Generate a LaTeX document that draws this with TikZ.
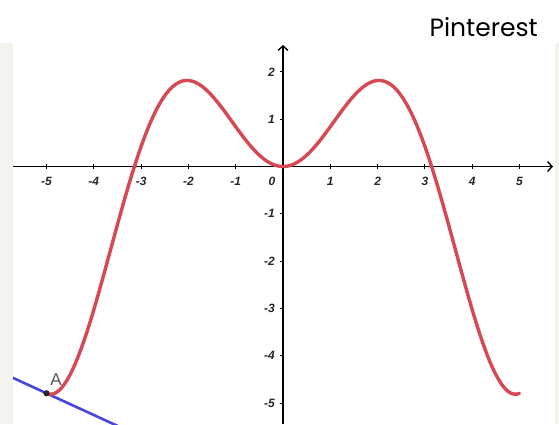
\documentclass[tikz,border=0pt]{standalone}
\usepackage{fontspec}
\setmainfont{Liberation Sans}
\newfontfamily\pinfont{Poppins}
\usetikzlibrary{arrows.meta}
\definecolor{curvered}{RGB}{214,72,82}
\definecolor{tanblue}{RGB}{70,70,222}
\definecolor{stripgray}{RGB}{245,243,238}
\definecolor{labgray}{RGB}{85,85,85}
\begin{document}
\begin{tikzpicture}[x=1pt,y=-1pt,
  axisline/.style={line width=1.4pt, black, -{Straight Barb[length=4.5pt,width=10pt,line width=1.4pt]}},
  ticklab/.style={font=\fontsize{12}{12}\selectfont\bfseries\itshape, inner sep=0pt, text=black!85},
  tickmark/.style={line width=0.9pt, black},
  curve/.style={line width=3.4pt, curvered, line cap=round},
  tangent/.style={line width=2.6pt, tanblue},
  ptlab/.style={font=\fontsize{17}{17}\selectfont, text=labgray, inner sep=0pt}]
\useasboundingbox (0,0) rectangle (559,424);
\fill[white] (0,0) rectangle (559,424);
\fill[stripgray] (0,43) rectangle (13,424);
\fill[stripgray] (555,43) rectangle (559,424);
\node[font=\pinfont\fontsize{25}{25}\selectfont, anchor=base east, inner sep=0pt] (brand) at (538,36.7) {Pinterest};
% axes end points
\coordinate (xl) at (13,166.5);
\coordinate (xr) at (553,166.5);
\coordinate (yb) at (283,424);
\coordinate (yt) at (283,45);
\begin{scope}
\clip (13,43) rectangle (555,424);
% ticks and labels
\begin{scope}[shift={(283,166.5)}, x=47.3pt, y=47.3pt]
  \foreach \k in {-5,-4,-3,-2,-1,1,2,3,4,5} {
    \draw[tickmark] (\k,-0.045) -- (\k,0.045);
    \node[ticklab, anchor=base] (xt\k) at ([yshift=-19pt]\k,0) {\k};
  }
  \node[ticklab, anchor=base] (xt0) at ([xshift=-11pt,yshift=-19pt]0,0) {0};
  \foreach \k in {-5,-4,-3,-2,-1,1,2} {
    \draw[tickmark] (-0.07,\k) -- (0,\k);
    \node[ticklab, anchor=east] (yt\k) at ([xshift=-8pt]0,\k) {\k};
  }
\end{scope}
\draw[axisline] (xl) -- (xr);
\draw[axisline] (yb) -- (yt);
\begin{scope}[shift={(283,166.5)}, x=47.3pt, y=47.3pt]
  \coordinate (A) at (-5,{-5*sin(-5 r)});
  \coordinate (T1) at (-5.8,{-5*sin(-5 r)-0.4594*(-0.8)});
  \coordinate (T2) at (-2.5,{-5*sin(-5 r)-0.4594*(2.5)});
  \draw[tangent] (T1) -- (A) -- (T2);
  \draw[curve, domain=-5:5, samples=241, smooth] plot (\x,{\x*sin(\x r)});
  \fill[black!85] (A) circle (3.1pt);
  \node[ptlab] (Alab) at ([xshift=9.5pt,yshift=14pt]A) {A};
\end{scope}
\end{scope}
\end{tikzpicture}
\end{document}
